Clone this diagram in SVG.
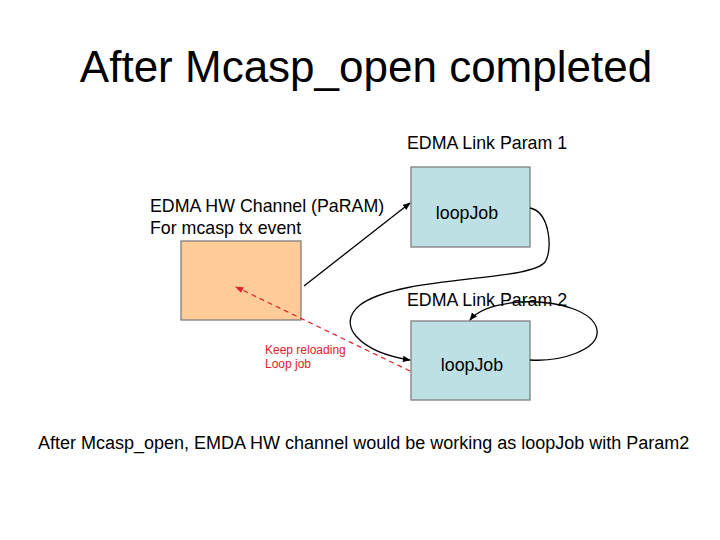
<svg xmlns="http://www.w3.org/2000/svg" width="720" height="540" viewBox="0 0 720 540">
<style>
text{font-family:"Liberation Sans",Arial,sans-serif;fill:#000}
.lbl{font-size:17.8px}
.box{stroke:#7f7f7f;stroke-width:1.3}
.blue{fill:#BCE0E3}
.conn{fill:none;stroke:#000;stroke-width:1.3}
.red{fill:none;stroke:#E0202A;stroke-width:1.2;stroke-dasharray:5,4}
.rt{font-size:12px;fill:#E0202A}
</style>
<defs>
<marker id="ah" viewBox="0 0 10 10" refX="9" refY="5" markerWidth="8" markerHeight="8" orient="auto" markerUnits="userSpaceOnUse"><path d="M0,1 L10,5 L0,9 z" fill="#000"/></marker>
<marker id="ahr" viewBox="0 0 10 10" refX="9" refY="5" markerWidth="8" markerHeight="8" orient="auto" markerUnits="userSpaceOnUse"><path d="M0,1 L10,5 L0,9 z" fill="#E0202A"/></marker>
</defs>
<rect width="720" height="540" fill="#fff"/>
<text x="366" y="82" font-size="44" text-anchor="middle">After Mcasp_open completed</text>
<g id="hw">
<rect class="box" x="181" y="241" width="120" height="79" fill="#FFCC99"/>
<text class="lbl" x="150" y="212">EDMA HW Channel (PaRAM)</text>
<text class="lbl" x="150" y="234">For mcasp tx event</text>
</g>
<g id="param1">
<rect class="box blue" x="411" y="167" width="119" height="80"/>
<text class="lbl" x="407" y="149">EDMA Link Param 1</text>
<text class="lbl" x="467" y="219" text-anchor="middle">loopJob</text>
</g>
<g id="param2">
<rect class="box blue" x="411" y="321" width="119" height="79"/>
<text class="lbl" x="472" y="371" text-anchor="middle">loopJob</text>
</g>
<g id="connectors">
<path class="conn" d="M304,286 L410,203" marker-end="url(#ah)"/>
<path class="conn" d="M530,208 C550,212 553,250 545,262 C530,282 400,275 360,305 C335,325 360,352 410,360" marker-end="url(#ah)"/>
<path class="conn" d="M530,360 C560,362 600,350 597,330 C594,312 560,300 520,302 C495,304 478,310 470,320" marker-end="url(#ah)"/>
<path class="red" d="M410,371 L236,287" marker-end="url(#ahr)"/>
</g>
<text class="lbl" x="407" y="306">EDMA Link Param 2</text>
<text class="rt" x="265" y="354">Keep reloading</text>
<text class="rt" x="265" y="368">Loop job</text>
<text x="38" y="449" font-size="18">After Mcasp_open, EMDA HW channel would be working as loopJob with Param2</text>
</svg>
